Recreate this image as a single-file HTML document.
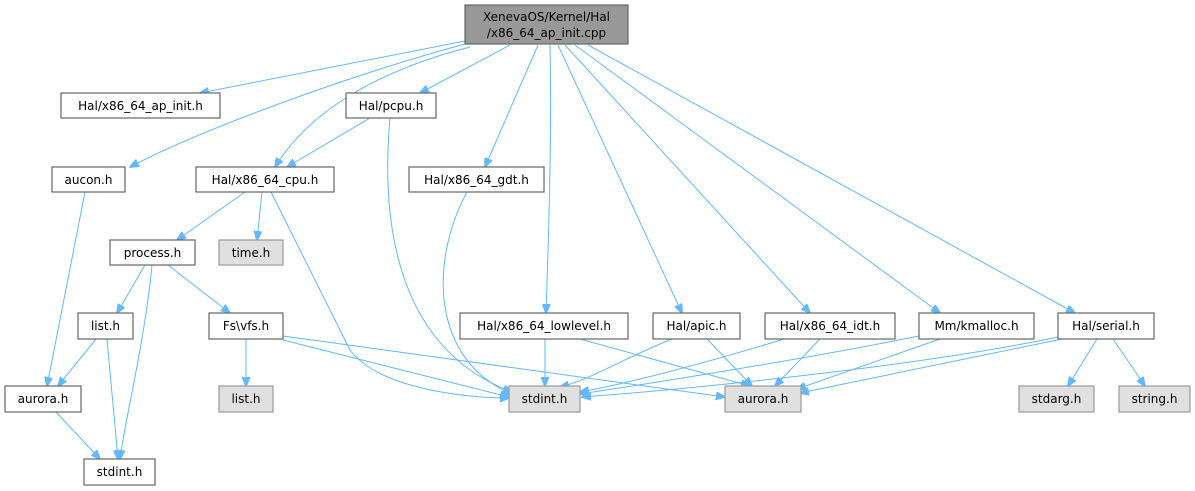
<!DOCTYPE html>
<html><head><meta charset="utf-8"><style>
html,body{margin:0;padding:0;background:#fff;}
svg{display:block;}
text{font-family:"DejaVu Sans","Liberation Sans",sans-serif;font-size:12px;fill:#000;}
.n{fill:#fff;stroke:#666;stroke-width:1.2;}
.g{fill:#e0e0e0;stroke:#999;stroke-width:1.2;}
.r{fill:#999;stroke:#666;stroke-width:1.2;}
.e{fill:none;stroke:#63b8ff;stroke-width:1;marker-end:url(#a);}
</style></head><body>
<svg width="1195" height="491" viewBox="0 0 1195 491">
<defs><marker id="a" markerWidth="10" markerHeight="8" refX="9" refY="4" orient="auto" markerUnits="userSpaceOnUse"><path d="M0,0 L10,4 L0,8 z" fill="#63b8ff" stroke="#63b8ff"/></marker></defs>
<g>
<path class="e" d="M465,41 L200,93"/>
<path class="e" d="M465,44 C350,75 200,130 130,167"/>
<path class="e" d="M470,47 C380,70 310,110 275,167"/>
<path class="e" d="M510,45 L420,93"/>
<path class="e" d="M538,45 L485,167"/>
<path class="e" d="M550,45 C552,150 548,250 546,313"/>
<path class="e" d="M558,45 L682,313"/>
<path class="e" d="M565,45 L810,313"/>
<path class="e" d="M575,45 L940,313"/>
<path class="e" d="M588,45 L1075,313"/>
<path class="e" d="M370,118 L287,167"/>
<path class="e" d="M390,118 C380,230 400,350 512,392"/>
<path class="e" d="M245,192 L177,240"/>
<path class="e" d="M262,192 L257,240"/>
<path class="e" d="M271,192 L350,350 C380,390 470,398 509,398"/>
<path class="e" d="M467,192 C430,260 430,360 512,394"/>
<path class="e" d="M85,192 L47,386"/>
<path class="e" d="M145,265 L117,313"/>
<path class="e" d="M152,265 C145,340 125,420 120,459"/>
<path class="e" d="M168,265 L230,313"/>
<path class="e" d="M96,339 L58,386"/>
<path class="e" d="M107,339 L118,459"/>
<path class="e" d="M56,412 L100,459"/>
<path class="e" d="M246,339 L246,386"/>
<path class="e" d="M283,340 L509,397"/>
<path class="e" d="M283,336 L725,397"/>
<path class="e" d="M545,339 L545,386"/>
<path class="e" d="M580,339 L750,386"/>
<path class="e" d="M672,339 C620,360 590,380 560,387"/>
<path class="e" d="M707,339 L752,386"/>
<path class="e" d="M784,339 C700,365 620,385 580,392"/>
<path class="e" d="M820,339 L775,386"/>
<path class="e" d="M919,336 C800,360 640,385 580,394"/>
<path class="e" d="M940,339 L797,389"/>
<path class="e" d="M1058,337 C900,370 650,392 582,397"/>
<path class="e" d="M1062,339 L800,393"/>
<path class="e" d="M1097,339 L1068,386"/>
<path class="e" d="M1113,339 L1145,386"/>
</g>
<rect class="r" x="465" y="5" width="163" height="39"/>
<text x="546.5" y="21" text-anchor="middle">XenevaOS/Kernel/Hal</text>
<text x="546.5" y="37" text-anchor="middle">/x86_64_ap_init.cpp</text>
<rect class="n" x="61" y="93" width="159" height="25"/><text x="140.5" y="110" text-anchor="middle">Hal/x86_64_ap_init.h</text>
<rect class="n" x="346" y="93" width="90" height="25"/><text x="391" y="110" text-anchor="middle">Hal/pcpu.h</text>
<rect class="n" x="52" y="167" width="73" height="25"/><text x="88.5" y="184" text-anchor="middle">aucon.h</text>
<rect class="n" x="196" y="167" width="138" height="25"/><text x="265" y="184" text-anchor="middle">Hal/x86_64_cpu.h</text>
<rect class="n" x="409" y="167" width="135" height="25"/><text x="476.5" y="184" text-anchor="middle">Hal/x86_64_gdt.h</text>
<rect class="n" x="110" y="240" width="85" height="25"/><text x="152.5" y="257" text-anchor="middle">process.h</text>
<rect class="g" x="219" y="240" width="64" height="25"/><text x="251" y="257" text-anchor="middle">time.h</text>
<rect class="n" x="78" y="313" width="55" height="26"/><text x="105.5" y="330" text-anchor="middle">list.h</text>
<rect class="n" x="209" y="313" width="74" height="26"/><text x="246" y="330" text-anchor="middle">Fs\vfs.h</text>
<rect class="n" x="460" y="313" width="168" height="26"/><text x="544" y="330" text-anchor="middle">Hal/x86_64_lowlevel.h</text>
<rect class="n" x="653" y="313" width="87" height="26"/><text x="696.5" y="330" text-anchor="middle">Hal/apic.h</text>
<rect class="n" x="765" y="313" width="130" height="26"/><text x="830" y="330" text-anchor="middle">Hal/x86_64_idt.h</text>
<rect class="n" x="919" y="313" width="115" height="26"/><text x="976.5" y="330" text-anchor="middle">Mm/kmalloc.h</text>
<rect class="n" x="1058" y="313" width="96" height="26"/><text x="1106" y="330" text-anchor="middle">Hal/serial.h</text>
<rect class="n" x="5" y="386" width="76" height="26"/><text x="43" y="403" text-anchor="middle">aurora.h</text>
<rect class="g" x="219" y="386" width="54" height="26"/><text x="246" y="403" text-anchor="middle">list.h</text>
<rect class="g" x="509" y="386" width="71" height="26"/><text x="544.5" y="403" text-anchor="middle">stdint.h</text>
<rect class="g" x="725" y="386" width="76" height="26"/><text x="763" y="403" text-anchor="middle">aurora.h</text>
<rect class="g" x="1019" y="386" width="75" height="26"/><text x="1056.5" y="403" text-anchor="middle">stdarg.h</text>
<rect class="g" x="1119" y="386" width="71" height="26"/><text x="1154.5" y="403" text-anchor="middle">string.h</text>
<rect class="n" x="84" y="459" width="71" height="26"/><text x="119.5" y="476" text-anchor="middle">stdint.h</text>
</svg>
</body></html>
